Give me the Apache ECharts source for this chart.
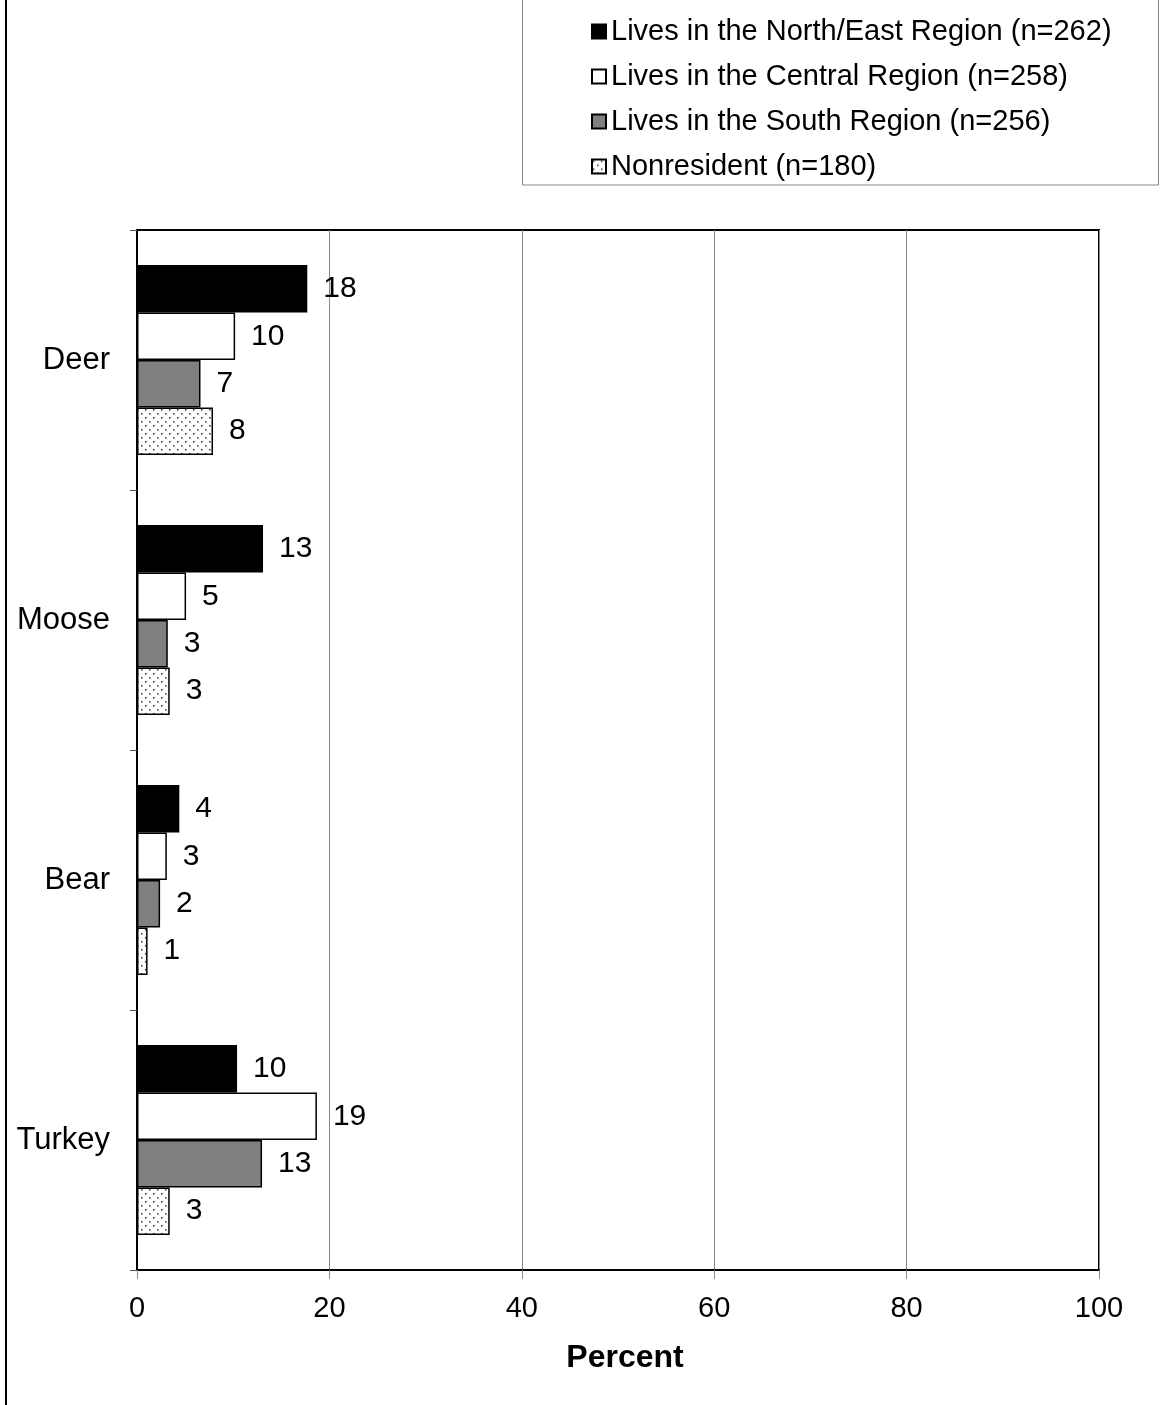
<!DOCTYPE html>
<html>
<head>
<meta charset="utf-8">
<script src="https://cdn.jsdelivr.net/npm/echarts@6/dist/echarts.min.js"></script>
<style>
html,body{margin:0;padding:0;background:#fff;}
#chart{width:1160px;height:1405px;}
</style>
</head>
<body>
<div id="chart"></div>
<script>
const categories = ['Deer', 'Moose', 'Bear', 'Turkey'];
const seriesNames = [
  'Lives in the North/East Region (n=262)',
  'Lives in the Central Region (n=258)',
  'Lives in the South Region (n=256)',
  'Nonresident (n=180)'
];
const northEast = [17.7, 13.1, 4.4, 10.4];
const central = [10.2, 5.1, 3.1, 18.7];
const south = [6.6, 3.2, 2.4, 13.0];
const nonresident = [7.9, 3.4, 1.1, 3.4];
const xTicks = [0, 20, 40, 60, 80, 100];

// dotted pattern
const pc = document.createElement('canvas');
pc.width = 8; pc.height = 8;
const ctx = pc.getContext('2d');
ctx.fillStyle = '#fff'; ctx.fillRect(0, 0, 8, 8);
ctx.fillStyle = '#333';
ctx.fillRect(1, 1, 1.5, 1.5);
ctx.fillRect(5, 5, 1.5, 1.5);
const dotted = { image: pc, repeat: 'repeat' };

const fills = ['#000000', '#ffffff', '#808080', dotted];
const dataSets = [northEast, central, south, nonresident];

const chart = echarts.init(document.getElementById('chart'), null, { renderer: 'canvas' });
const font = '"Liberation Sans", Arial, Helvetica, sans-serif';

chart.setOption({
  animation: false,
  textStyle: { fontFamily: font },
  graphic: [
    { type: 'line', shape: { x1: 6, y1: 0, x2: 6, y2: 1405 }, style: { stroke: '#000', lineWidth: 2 } },
    { type: 'rect', shape: { x: 522.5, y: -1, width: 636, height: 186 }, style: { fill: 'none', stroke: '#888', lineWidth: 1 } }
  ],
  legend: {
    orient: 'vertical',
    left: 586,
    top: 12,
    itemWidth: 14,
    itemHeight: 14,
    itemGap: 16,
    icon: 'rect',
    textStyle: { fontSize: 29, color: '#000', fontFamily: font, lineHeight: 29 },
    data: seriesNames
  },
  grid: {
    left: 137, right: 61, top: 230, bottom: 135,
    show: true, borderColor: '#000', borderWidth: 2,
    containLabel: false
  },
  xAxis: {
    type: 'value',
    min: 0, max: 100, interval: 20,
    name: 'Percent',
    nameLocation: 'middle',
    nameGap: 72,
    nameTextStyle: { fontSize: 32, fontWeight: 'bold', color: '#000', fontFamily: font, padding: [0, 0, 0, 14] },
    axisLine: { show: true, lineStyle: { color: '#000', width: 2 } },
    axisTick: { show: true, length: 9, lineStyle: { color: '#888' } },
    axisLabel: { fontSize: 29, color: '#000', margin: 24, fontFamily: font,
      formatter: v => xTicks.includes(v) ? String(v) : '' },
    splitLine: { show: true, lineStyle: { color: '#888', width: 1 } }
  },
  yAxis: {
    type: 'category',
    data: categories,
    inverse: true,
    axisLine: { show: true, lineStyle: { color: '#000', width: 2 } },
    axisTick: { show: true, length: 7, alignWithLabel: false, lineStyle: { color: '#555' } },
    axisLabel: { fontSize: 31, color: '#000', margin: 27, fontFamily: font },
    splitLine: { show: false }
  },
  series: dataSets.map((d, i) => ({
    name: seriesNames[i],
    type: 'bar',
    data: d,
    barGap: '0%',
    barCategoryGap: '27%',
    itemStyle: { color: fills[i], borderColor: '#000', borderWidth: 1.5 },
    label: {
      show: true, position: 'right', distance: 16,
      fontSize: 30, color: '#000', fontFamily: font,
      formatter: p => String(Math.round(p.value))
    }
  }))
});
</script>
</body>
</html>
